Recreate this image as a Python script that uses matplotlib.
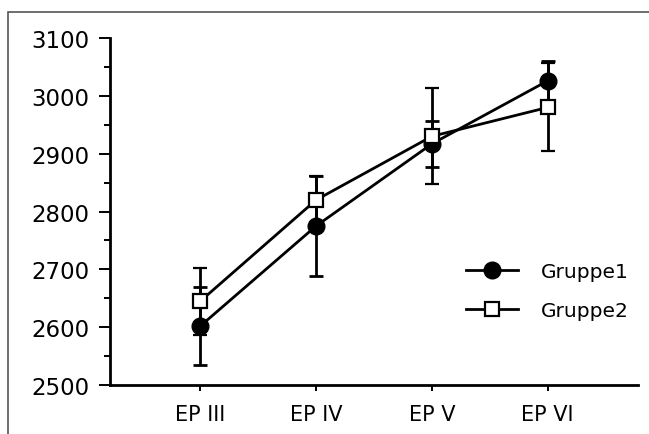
import numpy as np
import matplotlib
matplotlib.use("Agg")
import matplotlib.pyplot as plt
from matplotlib.patches import Rectangle
from matplotlib.lines import Line2D
from matplotlib.ticker import MultipleLocator

# data
categories = ["EP III", "EP IV", "EP V", "EP VI"]
gruppe1 = [2602, 2775, 2917, 3026]
gruppe1_err = [68, 86, 40, 34]
gruppe2 = [2645, 2820, 2930, 2980]
gruppe2_err = [58, 41, 83, 76]

fig = plt.figure(figsize=(6.49, 4.35), dpi=100)
ax = fig.add_axes([0.1695, 0.1126, 0.983 - 0.1695, 0.9103 - 0.1126])

# outer frame (only left and top visible in the original)
frame = Rectangle((8 / 649, -0.5), 2, 0.5 + 1 - 13 / 435, transform=fig.transFigure,
                  fill=False, edgecolor="#555555", linewidth=1.2, clip_on=False)
fig.patches.append(frame)

x = np.arange(len(categories))

ax.errorbar(x, gruppe1, yerr=gruppe1_err, color="black", marker="o", markersize=12,
            markerfacecolor="black", linewidth=2, elinewidth=2, capsize=5,
            capthick=2, zorder=3)
ax.errorbar(x, gruppe2, yerr=gruppe2_err, color="black", marker="s", markersize=10.5,
            markerfacecolor="white", markeredgewidth=1.6, linewidth=2, elinewidth=2,
            capsize=5, capthick=2, zorder=4)

ax.set_xlim(-0.78, 3.78)
ax.set_ylim(2500, 3100)
ax.set_xticks(x)
ax.set_xticklabels(categories, fontsize=15)
ax.yaxis.set_major_locator(MultipleLocator(100))
ax.yaxis.set_minor_locator(MultipleLocator(50))
ax.tick_params(axis="y", which="major", labelsize=16.5, length=8, width=1.4, pad=7)
ax.tick_params(axis="y", which="minor", length=4, width=1.4)
ax.tick_params(axis="x", length=4, width=1.4, pad=10)

for s in ["top", "right"]:
    ax.spines[s].set_visible(False)
for s in ["left", "bottom"]:
    ax.spines[s].set_linewidth(2)

handles = [
    Line2D([], [], color="black", linewidth=2, marker="o", markersize=12,
           markerfacecolor="black"),
    Line2D([], [], color="black", linewidth=2, marker="s", markersize=10.5,
           markerfacecolor="white", markeredgewidth=1.6),
]
ax.legend(handles, ["Gruppe1", "Gruppe2"], loc="upper left",
          bbox_to_anchor=(0.64, 0.406), frameon=False, fontsize=14.5,
          handlelength=2.6, handletextpad=1.1, labelspacing=1.0)

fig.savefig("out.png", dpi=100)
